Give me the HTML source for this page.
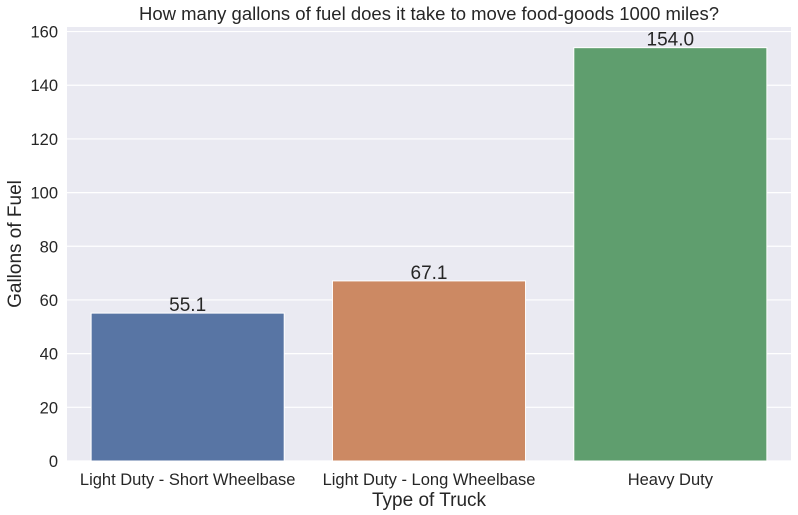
<!DOCTYPE html>
<html><head><meta charset="utf-8"><style>
html,body{margin:0;padding:0;background:#fff;}
svg{display:block;font-family:"Liberation Sans",Arial,sans-serif;}
</style></head><body>
<svg id="chart" width="798" height="515" viewBox="0 0 798 515"></svg>
<script>
const categories = ["Light Duty - Short Wheelbase","Light Duty - Long Wheelbase","Heavy Duty"];
const values = [55.1, 67.1, 154.0];
const colors = ["#5875a4","#cc8963","#5f9e6e"];
const yTicks = [0,20,40,60,80,100,120,140,160];
const L=67,R=791,T=27,B=461,YMAX=161.7;
const NS="http://www.w3.org/2000/svg";
const svg=document.getElementById('chart');
function y(v){return B-(v/YMAX)*(B-T);}
const band=(R-L)/categories.length;
function x(i){return L+i*band;}
function mk(t,a,p){const e=document.createElementNS(NS,t);for(const k in a)e.setAttribute(k,a[k]);(p||svg).appendChild(e);return e;}
const bg=mk('rect',{x:L,y:T,width:R-L,height:B-T,fill:'#eaeaf2'});


yTicks.forEach(t=>{
  const g=mk('line',{x1:L,x2:R,y1:y(t),y2:y(t),stroke:'#fff','stroke-width':1.2});
  
  
  const lb=mk('text',{x:L-9,y:y(t)+6,'text-anchor':'end','font-size':16.5,fill:'#262626'});
  lb.textContent=t;
  
  
});
categories.forEach((c,i)=>{
  const bx=x(i)+band*0.1,bw=band*0.8;
  const r=mk('rect',{x:bx,y:y(values[i]),width:bw,height:B-y(values[i]),fill:colors[i],stroke:'#fff','stroke-width':1});
  
  
  const v=mk('text',{x:bx+bw/2,y:y(values[i])-2,'text-anchor':'middle','font-size':19,fill:'#262626'});
  v.textContent=values[i].toFixed(1);
  
  
  const cl=mk('text',{x:bx+bw/2,y:B+24,'text-anchor':'middle','font-size':16.5,fill:'#262626'});
  cl.textContent=c;
  
  
});
const ttl=mk('text',{x:(L+R)/2,y:20,'text-anchor':'middle','font-size':18.5,fill:'#262626'});
ttl.textContent="How many gallons of fuel does it take to move food-goods 1000 miles?";


const xt=mk('text',{x:(L+R)/2,y:506,'text-anchor':'middle','font-size':19,fill:'#262626'});
xt.textContent="Type of Truck";


const yt=mk('text',{x:0,y:0,'text-anchor':'middle','font-size':19,fill:'#262626',transform:'translate(21,'+((T+B)/2)+') rotate(-90)'});
yt.textContent="Gallons of Fuel";


</script>
</body></html>
